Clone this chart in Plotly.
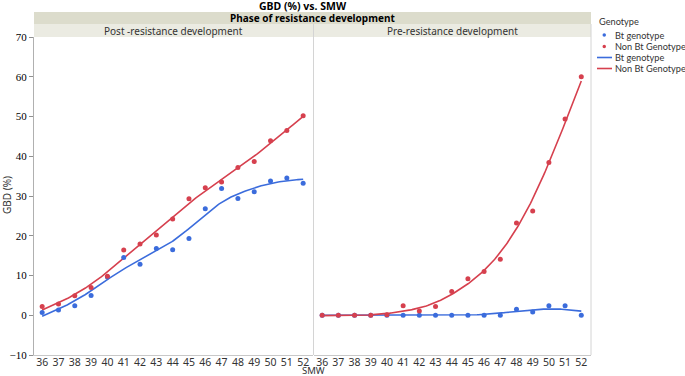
import numpy as np
import plotly.graph_objects as go

# ---------------- data ----------------
smw = [36, 37, 38, 39, 40, 41, 42, 43, 44, 45, 46, 47, 48, 49, 50, 51, 52]
post_bt = [0.7, 1.3, 2.4, 5.0, 9.6, 14.5, 12.8, 16.8, 16.5, 19.3, 26.8, 31.9, 29.4, 31.1, 33.8, 34.5, 33.2]
post_nonbt = [2.2, 2.8, 4.9, 7.0, 9.8, 16.4, 17.9, 20.2, 24.2, 29.3, 32.1, 33.5, 37.2, 38.7, 43.9, 46.5, 50.2]
pre_bt = [0.0, 0.0, 0.0, 0.0, 0.0, 0.0, 0.0, 0.0, 0.0, 0.0, 0.0, 0.0, 1.5, 0.8, 2.4, 2.4, 0.0]
pre_nonbt = [0.0, 0.0, 0.0, 0.0, 0.1, 2.4, 1.1, 2.2, 6.0, 9.2, 11.0, 14.1, 23.2, 26.2, 38.4, 49.4, 60.0]
panel_titles = ["Post -resistance development", "Pre-resistance development"]
genotypes = ["Bt genotype", "Non Bt Genotype"]
y_ticks = [-10, 0, 10, 20, 30, 40, 50, 60, 70]

BLUE = "#3b6cdc"
RED = "#d6404e"

# ---------------- smoothing spline (Reinsch) ----------------
def smooth_spline(x, y, lam, xs):
    x = np.asarray(x, float); y = np.asarray(y, float)
    n = len(x); h = np.diff(x)
    Q = np.zeros((n, n - 2)); R = np.zeros((n - 2, n - 2))
    for j in range(1, n - 1):
        Q[j - 1, j - 1] = 1 / h[j - 1]
        Q[j, j - 1] = -1 / h[j - 1] - 1 / h[j]
        Q[j + 1, j - 1] = 1 / h[j]
        R[j - 1, j - 1] = (h[j - 1] + h[j]) / 3
        if j < n - 2:
            R[j - 1, j] = R[j, j - 1] = h[j] / 6
    K = Q @ np.linalg.solve(R, Q.T)
    f = np.linalg.solve(np.eye(n) + lam * K, y)
    g = np.concatenate([[0], np.linalg.solve(R, Q.T @ f), [0]])
    out = []
    for t in xs:
        i = min(max(np.searchsorted(x, t) - 1, 0), n - 2)
        hi = h[i]; a = t - x[i]; b = x[i + 1] - t
        v = (a * f[i + 1] + b * f[i]) / hi - a * b / 6 * ((1 + a / hi) * g[i + 1] + (1 + b / hi) * g[i])
        out.append(v)
    return np.array(out)

xs = np.linspace(smw[0], smw[-1], 200)
LAM = 3.0

fig = go.Figure()
panels = [(post_bt, post_nonbt, "x", "y"), (pre_bt, pre_nonbt, "x2", "y2")]
for bt, nbt, xa, ya in panels:
    for vals, col in ((bt, BLUE), (nbt, RED)):
        fig.add_trace(go.Scatter(x=xs, y=smooth_spline(smw, vals, LAM, xs), mode="lines",
                                 line=dict(color=col, width=1.6), xaxis=xa, yaxis=ya,
                                 showlegend=False, hoverinfo="skip"))
    for vals, col in ((bt, BLUE), (nbt, RED)):
        fig.add_trace(go.Scatter(x=smw, y=vals, mode="markers", marker=dict(color=col, size=5),
                                 xaxis=xa, yaxis=ya, showlegend=False))

# ---------------- layout ----------------
W, H = 685, 376
L, R_, T, B = 34, 94, 37, 21
PW, PH = W - L - R_, H - T - B
def px(xp):
    return (xp - L) / PW
def py(yp):
    return (H - B - yp) / PH

split = px(313.5)
xcommon = dict(range=[35.5, 52.6], tickmode="array", tickvals=smw, ticktext=[str(v) for v in smw],
               showgrid=False, zeroline=False, showline=True, linecolor="#c8c8c8", linewidth=1,
               ticks="", automargin=False, ticklabelstandoff=-3,
               tickfont=dict(family="Noto Sans", size=10.5, color="#333333"))
fig.update_layout(
    width=W, height=H, margin=dict(l=L, r=R_, t=T, b=B, autoexpand=False),
    paper_bgcolor="white", plot_bgcolor="white", showlegend=False,
    xaxis=dict(domain=[0, split - 0.001], **xcommon),
    xaxis2=dict(domain=[split + 0.001, 1], **xcommon),
    yaxis=dict(range=[-10, 70], tickvals=y_ticks, showgrid=False, zeroline=False, showline=True,
               linecolor="#b0b0b0", linewidth=1, ticks="outside", ticklen=4, tickcolor="#909090",
               automargin=False,
               tickfont=dict(family="Liberation Serif", size=11, color="black")),
    yaxis2=dict(range=[-10, 70], anchor="x2", matches="y", showticklabels=False, showgrid=False,
                zeroline=False, showline=False, ticks="", automargin=False),
)

shapes = []
# header bands
shapes.append(dict(type="rect", xref="paper", yref="paper", x0=0, x1=1, y0=py(24), y1=py(12),
                   fillcolor="#dcdccc", line=dict(width=0), layer="below"))
shapes.append(dict(type="rect", xref="paper", yref="paper", x0=0, x1=1, y0=py(37), y1=py(24),
                   fillcolor="#ebebe2", line=dict(width=0), layer="below"))
# separators / borders
shapes.append(dict(type="line", xref="paper", yref="paper", x0=split, x1=split, y0=0, y1=py(24),
                   line=dict(color="#d4d4d4", width=1)))
shapes.append(dict(type="line", xref="paper", yref="paper", x0=1, x1=1, y0=0, y1=py(24),
                   line=dict(color="#d4d4d4", width=1)))
# legend symbols
for yy, col in ((35, BLUE), (46.5, RED)):
    shapes.append(dict(type="circle", xref="paper", yref="paper", x0=px(602.5), x1=px(606),
                       y0=py(yy + 1.75), y1=py(yy - 1.75), fillcolor=col, line=dict(width=0)))
for yy, col in ((57.5, BLUE), (68.5, RED)):
    shapes.append(dict(type="line", xref="paper", yref="paper", x0=px(597), x1=px(612),
                       y0=py(yy), y1=py(yy), line=dict(color=col, width=1.6)))
fig.update_layout(shapes=shapes)

def label(text, xp, yp, size=10, family="Noto Sans", color="#333333", xanchor="center", angle=0):
    return dict(text=text, xref="paper", yref="paper", x=px(xp), y=py(yp), xanchor=xanchor,
                yanchor="middle", textangle=angle, showarrow=False,
                font=dict(family=family, size=size, color=color))

ann = [
    label("<b>GBD (%) vs. SMW</b>", 303, 6, size=10.5, color="black"),
    label("<b>Phase of resistance development</b>", 312.5, 18, size=10, color="black"),
    label(panel_titles[0], 173.5, 30.5),
    label(panel_titles[1], 452.5, 30.5),
    label("GBD (%)", 7, 195, angle=-90),
    label("SMW", 313, 370.5, size=9.5),
    label("Genotype", 597, 22, size=9.2, family="Lato", xanchor="left"),
]
for yy, name in zip((35, 46.5, 57.5, 68.5), genotypes + genotypes):
    ann.append(label(name, 613, yy, size=9.2, family="Lato", xanchor="left"))
fig.update_layout(annotations=ann)

fig.write_html("out.html", config={"displayModeBar": False},
               post_script="document.body.style.margin='0';document.body.style.padding='0';")
